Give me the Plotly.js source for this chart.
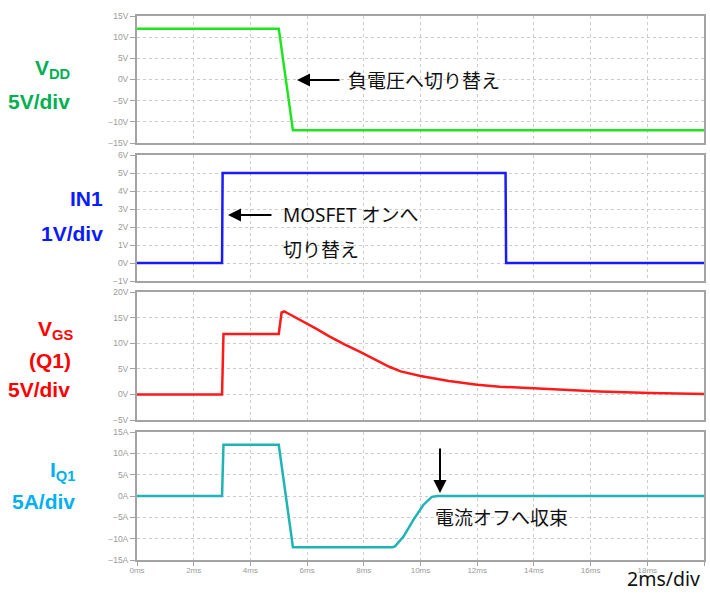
<!DOCTYPE html>
<html>
<head>
<meta charset="utf-8">
<script src="https://cdn.plot.ly/plotly-3.0.1.min.js"></script>
<style>html,body{margin:0;padding:0;background:#fff;}#chart{width:710px;height:594px;}</style>
</head>
<body>
<div id="chart"></div>
<script>
// ---- data (time in ms) ----
const tVdd = [0, 5.0, 5.5, 20];
const vdd  = [12, 12, -12, -12];

const tIn1 = [0, 3.0, 3.02, 13.0, 13.02, 20];
const in1  = [0, 0, 5, 5, 0, 0];

const tVgs = [0, 3.0, 3.05, 5.0, 5.1, 5.2, 5.3, 5.75, 6.3, 6.8, 7.3, 7.87, 8.4, 8.9, 9.3, 10, 11, 12, 12.8, 14.6, 16.3, 18.1, 20];
const vgs  = [0, 0, 11.8, 11.8, 16.0, 16.2, 15.9, 14.6, 12.9, 11.3, 9.8, 8.3, 6.8, 5.4, 4.5, 3.6, 2.6, 1.9, 1.5, 0.95, 0.55, 0.25, 0.1];

const tIq1 = [0, 3.0, 3.05, 5.0, 5.5, 9.0, 9.1, 9.4, 9.75, 10.1, 10.4, 10.6, 20];
const iq1  = [0, 0, 12, 12, -12, -12, -11.8, -9.5, -5.6, -2.1, -0.2, 0, 0];

const xTickVals = [0, 2, 4, 6, 8, 10, 12, 14, 16, 18, 20];
const xTickText = ['0ms','2ms','4ms','6ms','8ms','10ms','12ms','14ms','16ms','18ms','20ms'];

// ---- layout helpers ----
const L = 137, R = 704, T = 16, B = 560;
const px = x => (x - L) / (R - L);
const py = y => (B - y) / (B - T);

const gridCol = '#cccccc', frameCol = '#a3a3a3', tickCol = '#9a9a9a';

function xax(showLabels, anchor) {
  return {
    range: [0, 20], anchor: anchor, matches: anchor === 'y4' ? undefined : 'x4',
    showgrid: true, gridcolor: gridCol, griddash: 'dot', gridwidth: 1,
    tickvals: xTickVals, ticktext: xTickText, showticklabels: showLabels,
    ticks: showLabels ? 'outside' : '', ticklen: 4, tickcolor: frameCol,
    ticklabelstandoff: -3,
    tickfont: {family: 'Liberation Sans, Arial', size: 8, color: tickCol},
    showline: true, mirror: true, linecolor: frameCol, linewidth: 2,
    zeroline: false, fixedrange: true
  };
}
function yax(range, dtick, suffix, domain) {
  return {
    range: range, dtick: dtick, tick0: 0, ticksuffix: suffix, domain: domain,
    showgrid: true, gridcolor: gridCol, griddash: 'dot', gridwidth: 1,
    ticks: 'outside', ticklen: 5, tickcolor: frameCol,
    tickfont: {family: 'Liberation Sans, Arial', size: 8.5, color: tickCol},
    showline: true, mirror: true, linecolor: frameCol, linewidth: 2,
    zeroline: false, fixedrange: true
  };
}

const traces = [
  {x: tVdd, y: vdd, xaxis: 'x', yaxis: 'y', mode: 'lines', line: {color: '#1ee61e', width: 2.5}},
  {x: tIn1, y: in1, xaxis: 'x2', yaxis: 'y2', mode: 'lines', line: {color: '#1a1aff', width: 2.5}},
  {x: tVgs, y: vgs, xaxis: 'x3', yaxis: 'y3', mode: 'lines', line: {color: '#ff1a1a', width: 2.5}},
  {x: tIq1, y: iq1, xaxis: 'x4', yaxis: 'y4', mode: 'lines', line: {color: '#1fb4b4', width: 2.5}}
];

const labFont = c => ({family: 'Liberation Sans, Arial', size: 21, color: c});
function lab(text, xr, yc, color) {
  return {xref: 'paper', yref: 'paper', x: px(xr), y: py(yc), xanchor: 'right', yanchor: 'middle',
          text: '<b>' + text + '</b>', showarrow: false, font: labFont(color)};
}
const jpFont = {family: 'Noto Sans, Noto Sans CJK JP', size: 19, color: '#111'};
function note(text, xl, yc) {
  return {xref: 'paper', yref: 'paper', x: px(xl), y: py(yc), xanchor: 'left', yanchor: 'middle',
          text: text, showarrow: false, font: jpFont};
}
function arrow(xt, yt, ax, ay) {
  return {xref: 'paper', yref: 'paper', x: px(xt), y: py(yt), ax: ax, ay: ay, text: '',
          showarrow: true, arrowhead: 2, arrowsize: 1.3, arrowwidth: 2, arrowcolor: '#000', standoff: 0};
}

const annotations = [
  lab('V<sub>DD</sub>', 72, 69, '#00b050'),
  lab('5V/div', 72, 101, '#00b050'),
  lab('IN1', 105, 198, '#0a1cff'),
  lab('1V/div', 105, 233, '#0a1cff'),
  lab('V<sub>GS</sub>', 75, 330, '#ff0000'),
  lab('(Q1)', 73, 360, '#ff0000'),
  lab('5V/div', 72, 389, '#ff0000'),
  lab('I<sub>Q1</sub>', 77, 471, '#00b0f0'),
  lab('5A/div', 77, 501, '#00b0f0'),
  arrow(297, 80, 44, 0),
  note('負電圧へ切り替え', 346, 81),
  arrow(228, 215, 45, 0),
  note('MOSFET オンへ', 281, 215),
  note('切り替え', 281, 250),
  arrow(440, 493, 0, -46),
  note('電流オフへ収束', 433, 518),
  {xref: 'paper', yref: 'paper', x: px(702), y: py(594), xanchor: 'right', yanchor: 'bottom',
   text: '2ms/div', showarrow: false, font: {family: 'Noto Sans, Noto Sans CJK JP', size: 19.5, color: '#111'}}
];

function box(x0, y0, x1, y1) {
  return {type: 'rect', xref: 'paper', yref: 'paper', x0: px(x0), x1: px(x1), y0: py(y1), y1: py(y0),
          fillcolor: '#ffffff', line: {width: 0}, layer: 'between'};
}
const shapes = [box(345, 60, 534, 101), box(278, 196, 455, 258), box(420, 500, 572, 534)];

const layout = {
  width: 710, height: 594,
  margin: {l: L, r: 710 - R, t: T, b: 594 - B},
  paper_bgcolor: '#fff', plot_bgcolor: '#fff',
  showlegend: false,
  xaxis: xax(false, 'y'), xaxis2: xax(false, 'y2'), xaxis3: xax(false, 'y3'), xaxis4: xax(true, 'y4'),
  yaxis: yax([-15, 15], 5, 'V', [py(143), 1]),
  yaxis2: yax([-1, 6], 1, 'V', [py(281), py(155)]),
  yaxis3: yax([-5, 20], 5, 'V', [py(420), py(292)]),
  yaxis4: yax([-15, 15], 5, 'A', [0, py(432)]),
  annotations: annotations,
  shapes: shapes
};

Plotly.newPlot('chart', traces, layout, {displayModeBar: false, staticPlot: true});
</script>
</body>
</html>
